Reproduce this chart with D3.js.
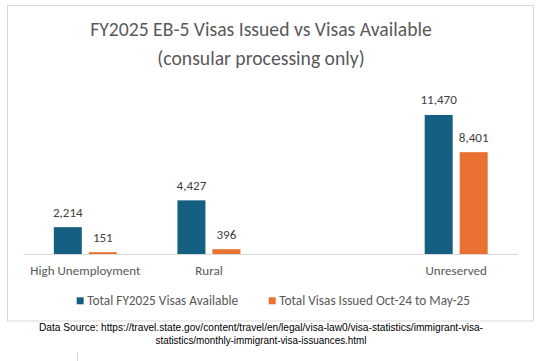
<!DOCTYPE html>
<html><head><meta charset="utf-8">
<script src="https://cdn.jsdelivr.net/npm/d3@7"></script>
<style>
html,body{margin:0;padding:0;background:#fff;}
svg{display:block;}
</style></head>
<body>
<script>
const titleLines = ["FY2025 EB-5 Visas Issued vs Visas Available", "(consular processing only)"];
const categories = ["High Unemployment", "Rural", " ", "Unreserved"];
const seriesNames = ["Total FY2025 Visas Available", "Total Visas Issued Oct-24 to May-25"];
const available = [2214, 4427, null, 11470];
const issued = [151, 396, null, 8401];
const sourceLines = ["Data Source: https://travel.state.gov/content/travel/en/legal/visa-law0/visa-statistics/immigrant-visa-",
                     "statistics/monthly-immigrant-visa-issuances.html"];
const colors = ["#156082", "#E97132"];

const W = 543, H = 361;
const font = "Carlito, Calibri, Lato, 'Open Sans', sans-serif";
const svg = d3.select("body").append("svg").attr("width", W).attr("height", H);

// scale a text selection's font size so a reference string reaches a target width
function fitSize(sel, refWidth, base) {
  let w = 0;
  sel.each(function(){ w = Math.max(w, this.getComputedTextLength()); });
  if (w > 0) sel.attr("font-size", base * refWidth / w);
}

// chart border
svg.append("rect").attr("x", 7.5).attr("y", 5.5).attr("width", 526).attr("height", 315.5)
  .attr("fill", "#fff").attr("stroke", "#D9D9D9").attr("stroke-width", 1);

// title
const tg = svg.append("g").attr("font-family", font).attr("fill", "#595959").attr("text-anchor", "middle");
const tt = tg.selectAll("text").data(titleLines).join("text")
  .attr("x", 261).attr("y", (d, i) => 36 + i * 29)
  .attr("font-size", 19).text(d => d);
fitSize(tt.filter((d, i) => i === 0), 342, 19);
tt.filter((d, i) => i === 1).attr("font-size", tt.filter((d, i) => i === 0).attr("font-size"));

// scales
const x0 = d3.scaleBand().domain(categories).range([23.5, 518]).paddingInner(0).paddingOuter(0);
const x1 = d3.scaleBand().domain([0, 1]).range([0, x0.bandwidth()]).paddingInner(0.2).paddingOuter(0.866);
const y = d3.scaleLinear().domain([0, 14000]).range([254, 84.3]);

const data = categories.map((c, i) => ({cat: c, vals: [available[i], issued[i]]}));

// axis line
const xAxis = d3.axisBottom(x0).tickSize(0).tickPadding(12);
const ax = svg.append("g").attr("transform", `translate(0,${y(0)})`).call(xAxis);
ax.select(".domain").attr("stroke", "#D9D9D9").attr("d", `M23.5,0.5H518`);
const catText = ax.selectAll("text").attr("font-family", font).attr("font-size", 12).attr("fill", "#595959");
fitSize(catText, 110, 12);

const groups = svg.append("g").selectAll("g").data(data).join("g")
  .attr("transform", d => `translate(${x0(d.cat)},0)`);
groups.selectAll("rect").data(d => d.vals.map((v, j) => ({v, j})).filter(e => e.v != null)).join("rect")
  .attr("x", e => x1(e.j)).attr("width", x1.bandwidth())
  .attr("y", e => y(e.v)).attr("height", e => y(0) - y(e.v))
  .attr("fill", e => colors[e.j]);
const lbls = groups.selectAll("text.lbl").data(d => d.vals.map((v, j) => ({v, j})).filter(e => e.v != null)).join("text")
  .attr("class", "lbl")
  .attr("x", e => x1(e.j) + x1.bandwidth() / 2).attr("y", e => y(e.v) - 10.5)
  .attr("text-anchor", "middle").attr("font-family", font).attr("font-size", 12).attr("fill", "#404040")
  .text(e => d3.format(",")(e.v));
fitSize(lbls, 36.4, 12);

// legend
const legX = [76.7, 268.7];
const legW = [151, 191];
const lg = svg.append("g").selectAll("g").data(seriesNames).join("g")
  .attr("transform", (d, i) => `translate(${legX[i]},297.3)`);
lg.append("rect").attr("width", 7).attr("height", 7).attr("fill", (d, i) => colors[i]);
lg.append("text").attr("x", 10.5).attr("y", 7.8).attr("font-family", font).attr("font-size", 12)
  .attr("fill", "#595959").text(d => d)
  .each(function(d, i){ fitSize(d3.select(this), legW[i], 12); });

// source
svg.append("g").selectAll("text").data(sourceLines).join("text")
  .attr("x", 261).attr("y", (d, i) => 331 + i * 12.5).attr("text-anchor", "middle")
  .attr("font-family", "'Liberation Sans', Arial, sans-serif").attr("font-size", 11).attr("fill", "#000")
  .attr("textLength", (d, i) => i === 0 ? 444 : 211).attr("lengthAdjust", "spacingAndGlyphs")
  .text(d => d);

svg.append("line").attr("x1", 77.5).attr("x2", 77.5).attr("y1", 352).attr("y2", 361).attr("stroke", "#D9D9D9");
</script>
</body></html>
